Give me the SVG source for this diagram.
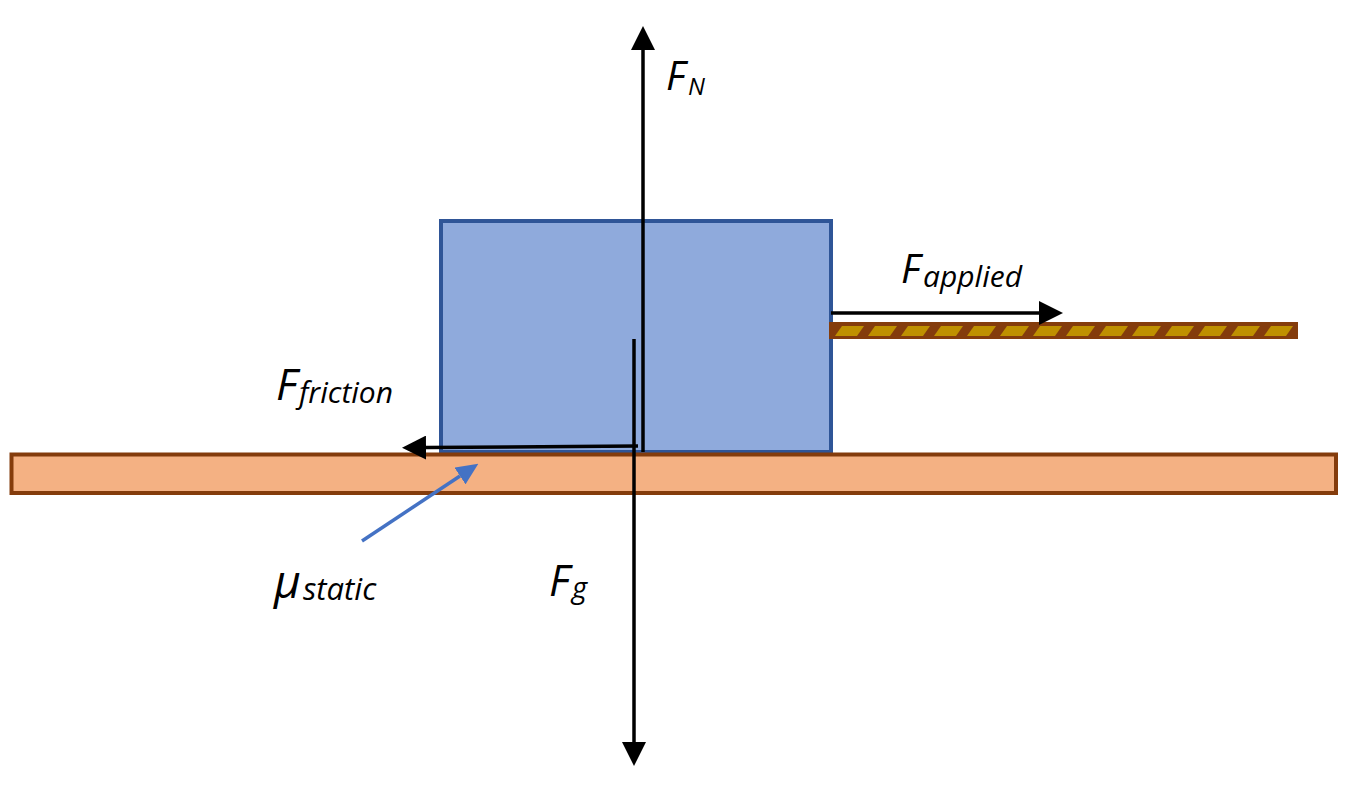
<svg xmlns="http://www.w3.org/2000/svg" width="1358" height="791" viewBox="0 0 1358 791">
  <style>
    .lbl { font-family: "Open Sans", "Liberation Sans", sans-serif; font-style: italic; font-weight: 500; fill: #000; }
    .force { stroke: #000; stroke-width: 3.5; fill: none; }
  </style>
  <defs>
    <marker id="ah" markerUnits="userSpaceOnUse" viewBox="0 0 24 24" markerWidth="24" markerHeight="24" refX="0" refY="12" orient="auto">
      <path d="M0,0 L24,12 L0,24 Z" fill="#000"/>
    </marker>
    <marker id="ahBlue" markerUnits="userSpaceOnUse" viewBox="0 0 22 20" markerWidth="22" markerHeight="20" refX="0" refY="10" orient="auto">
      <path d="M0,0 L22,10 L0,20 Z" fill="#4472C4"/>
    </marker>
    <pattern id="ropeHatch" patternUnits="userSpaceOnUse" x="835" y="322" width="33" height="17">
      <polygon points="0,14 22,14 29,4 7,4" fill="#BF9000"/>
    </pattern>
  </defs>

  <rect width="1358" height="791" fill="#fff"/>

  <g id="block">
    <rect x="441" y="221" width="390" height="231" fill="#8FAADC" stroke="#2F5597" stroke-width="4"/>
  </g>

  <g id="ground">
    <rect x="11.5" y="454.5" width="1324.5" height="38.5" fill="#F4B183" stroke="#843C0C" stroke-width="4"/>
  </g>

  <g id="rope">
    <rect x="829" y="322" width="469" height="17" fill="#843C0C"/>
    <rect x="831" y="324" width="465" height="13" fill="url(#ropeHatch)"/>
  </g>

  <g id="connectors">
    <path id="arrow-normal" class="force" d="M643,452 L643,50" marker-end="url(#ah)"/>
    <path id="arrow-gravity" class="force" d="M634,339 L634,742" marker-end="url(#ah)"/>
    <path id="arrow-friction" class="force" d="M638,446 L426,447.6" marker-end="url(#ah)"/>
    <path id="arrow-applied" class="force" d="M831,313 L1039,313" marker-end="url(#ah)"/>
    <path id="arrow-mu" d="M362,541 L460,476" stroke="#4472C4" stroke-width="3.5" fill="none" marker-end="url(#ahBlue)"/>
  </g>

  <g id="label-normal">
    <text class="lbl" x="666" y="90" font-size="40">F</text>
    <text class="lbl" x="688" y="95" font-size="24">N</text>
  </g>
  <g id="label-applied">
    <text class="lbl" x="901" y="283" font-size="40">F</text>
    <text class="lbl" x="923" y="287" font-size="30">applied</text>
  </g>
  <g id="label-friction">
    <text class="lbl" x="276" y="400" font-size="44">F</text>
    <text class="lbl" x="299" y="403" font-size="30">friction</text>
  </g>
  <g id="label-gravity">
    <text class="lbl" x="549" y="596" font-size="43">F</text>
    <text class="lbl" x="572" y="598" font-size="29">g</text>
  </g>
  <g id="label-mu">
    <text class="lbl" x="274" y="598" font-size="46">μ</text>
    <text class="lbl" x="303" y="600" font-size="31">static</text>
  </g>
</svg>
